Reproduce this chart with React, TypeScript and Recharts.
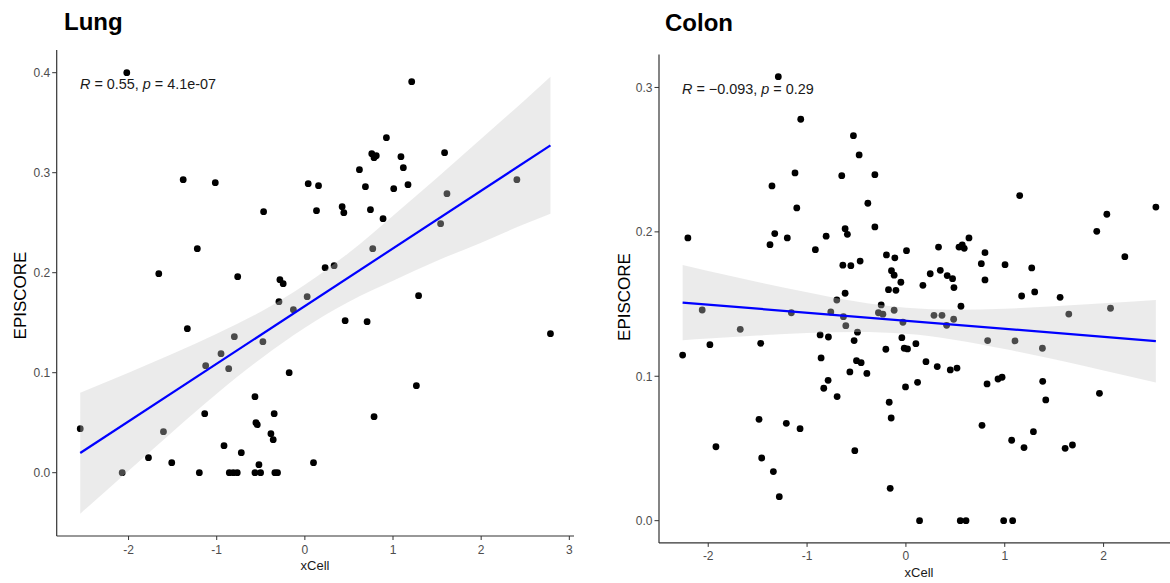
import { ComposedChart, Scatter, Area, Line, XAxis, YAxis } from "recharts";

// Lung panel: [xCell, EPISCORE]
const lungPoints: [number, number][] = [
  [-2.02, 0.4], [-1.38, 0.293], [-1.016, 0.29], [-0.468, 0.261], [-1.22, 0.224],
  [-1.657, 0.199], [-0.762, 0.196], [-0.283, 0.193], [-0.246, 0.189], [1.212, 0.391],
  [0.925, 0.335], [0.759, 0.319], [0.785, 0.315], [0.81, 0.317], [1.09, 0.316],
  [1.585, 0.32], [1.117, 0.305], [0.619, 0.303], [0.038, 0.289], [0.155, 0.287],
  [0.687, 0.286], [1.008, 0.284], [1.17, 0.288], [0.132, 0.262], [0.423, 0.266],
  [0.442, 0.26], [0.744, 0.263], [0.887, 0.254], [2.405, 0.293], [1.612, 0.279],
  [1.54, 0.249], [0.77, 0.224], [0.23, 0.205], [0.332, 0.207], [0.026, 0.176],
  [1.29, 0.177], [-0.294, 0.171], [-0.13, 0.163], [-1.333, 0.144], [-0.8, 0.136],
  [-0.476, 0.131], [-0.951, 0.119], [-1.125, 0.107], [-0.864, 0.104], [-0.178, 0.1],
  [-0.566, 0.076], [-1.136, 0.059], [-0.348, 0.059], [-0.555, 0.05], [-0.54, 0.048],
  [-2.548, 0.044], [-1.604, 0.041], [-0.385, 0.039], [-0.359, 0.033], [-0.917, 0.027],
  [-0.721, 0.02], [-1.774, 0.015], [-1.51, 0.01], [-0.521, 0.008], [-2.072, 0],
  [-1.197, 0], [-0.857, 0], [-0.812, 0], [-0.767, 0], [-0.566, 0],
  [-0.502, 0], [-0.34, 0], [-0.31, 0], [0.457, 0.152], [0.706, 0.151],
  [2.786, 0.139], [1.265, 0.087], [0.785, 0.056], [0.098, 0.01],
];

// fitted line ends and confidence band
const lungFitX = [-2.548, 2.786];
const lungFitY = [0.0197, 0.3273];
const lungBandX = [-2.548, -2, -1.5, -1, -0.5, 0, 0.5, 1, 1.5, 2, 2.5, 2.786];
const lungBandLow = [-0.041, 0.002, 0.041, 0.079, 0.114, 0.145, 0.171, 0.192, 0.212, 0.23, 0.249, 0.259];
const lungBandHigh = [0.08, 0.1, 0.119, 0.139, 0.161, 0.188, 0.22, 0.257, 0.295, 0.334, 0.373, 0.396];

// Colon panel
const colonPoints: [number, number][] = [
  [-1.291, 0.3075], [-1.064, 0.278], [-0.531, 0.2666], [-0.473, 0.2533], [-1.122, 0.2408],
  [-0.649, 0.2389], [-0.314, 0.2396], [-1.355, 0.2318], [-1.104, 0.2166], [-0.385, 0.2198],
  [-2.206, 0.1958], [-1.327, 0.1988], [-1.2, 0.1958], [-1.375, 0.1911], [-0.807, 0.197],
  [-0.615, 0.2022], [-0.592, 0.1983], [-0.314, 0.2034], [-0.916, 0.1877], [-0.638, 0.1769],
  [-0.557, 0.1766], [-0.463, 0.1798], [-0.615, 0.1575], [-0.699, 0.1528], [1.151, 0.2251],
  [2.033, 0.2122], [1.931, 0.2004], [2.529, 0.2172], [2.215, 0.1828], [0.638, 0.1958],
  [0.33, 0.1895], [0.537, 0.1895], [0.57, 0.191], [0.59, 0.1886], [0.006, 0.187],
  [-0.197, 0.184], [-0.112, 0.182], [0.8, 0.1856], [0.763, 0.178], [1.003, 0.1773],
  [1.273, 0.175], [-0.146, 0.1731], [-0.119, 0.17], [0.246, 0.171], [0.348, 0.1734],
  [0.418, 0.1697], [0.472, 0.1676], [-0.051, 0.1651], [0.8, 0.1667], [0.172, 0.163],
  [-0.176, 0.16], [-0.101, 0.1595], [0.486, 0.1614], [1.171, 0.1556], [1.303, 0.1584],
  [1.56, 0.1547], [-0.25, 0.1494], [-0.278, 0.144], [-0.233, 0.143], [-0.119, 0.1457],
  [0.557, 0.1485], [0.284, 0.1422], [0.365, 0.1422], [0.483, 0.1395], [0.412, 0.1353],
  [-0.03, 0.1374], [0.827, 0.1247], [1.104, 0.1245], [1.381, 0.1194], [1.648, 0.1431],
  [2.07, 0.1471], [-0.041, 0.1267], [-0.017, 0.1194], [0.016, 0.1189], [-0.203, 0.1187],
  [0.101, 0.1226], [0.203, 0.1101], [0.317, 0.1067], [0.449, 0.1044], [0.517, 0.1057],
  [0.932, 0.0981], [0.973, 0.0993], [0.821, 0.0947], [1.384, 0.0965], [1.415, 0.0836],
  [1.958, 0.0882], [-0.004, 0.0926], [0.118, 0.0958], [-0.169, 0.082], [-0.149, 0.0711],
  [0.77, 0.066], [1.29, 0.0616], [1.07, 0.0557], [1.195, 0.0506], [1.611, 0.0501],
  [1.685, 0.0524], [-0.159, 0.0224], [0.138, 0], [0.55, 0], [0.608, 0],
  [0.989, 0], [1.08, 0], [-2.061, 0.1459], [-1.676, 0.1325], [-1.159, 0.144],
  [-0.76, 0.1445], [-0.632, 0.1413], [-0.608, 0.135], [-0.49, 0.1305], [-2.259, 0.1147],
  [-1.983, 0.1219], [-1.469, 0.1228], [-0.868, 0.1286], [-0.784, 0.1272], [-0.524, 0.1247],
  [-0.858, 0.1127], [-0.5, 0.1108], [-0.453, 0.1094], [-0.567, 0.103], [-0.395, 0.102],
  [-0.787, 0.0972], [-0.831, 0.0917], [-0.696, 0.0859], [-1.486, 0.0702], [-1.21, 0.0674],
  [-1.071, 0.0637], [-1.922, 0.0512], [-0.517, 0.0485], [-1.459, 0.0434], [-1.341, 0.034],
  [-1.281, 0.0166],
];

const colonFitX = [-2.259, 2.529];
const colonFitY = [0.151, 0.1244];
const colonBandX = [-2.259, -2, -1.5, -1, -0.5, 0, 0.5, 1, 1.5, 2, 2.529];
const colonBandLow = [0.125, 0.1261, 0.1282, 0.1299, 0.1307, 0.1294, 0.1252, 0.1188, 0.1117, 0.104, 0.0957];
const colonBandHigh = [0.177, 0.1729, 0.1653, 0.1581, 0.1517, 0.1474, 0.1461, 0.1468, 0.1485, 0.1506, 0.1529];

const lungXTicks = [-2, -1, 0, 1, 2, 3];
const lungYTicks = [0, 0.1, 0.2, 0.3, 0.4];
const colonXTicks = [-2, -1, 0, 1, 2];
const colonYTicks = [0, 0.1, 0.2, 0.3];

const FONT = "'Liberation Sans', Arial, Helvetica, sans-serif";
const AXIS = "#333333";
const tickStyle = { fontSize: 12, fill: "#4d4d4d", fontFamily: FONT };

function Dot(props: any) {
  const { cx, cy } = props;
  if (cx == null || cy == null) return null;
  return <circle cx={cx} cy={cy} r={3.4} fill="#000" />;
}

type PanelProps = {
  width: number;
  height: number;
  margin: { top: number; right: number; bottom: number; left: number };
  points: [number, number][];
  fitX: number[];
  fitY: number[];
  bandX: number[];
  bandLow: number[];
  bandHigh: number[];
  xDomain: [number, number];
  yDomain: [number, number];
  xTicks: number[];
  yTicks: number[];
};

function Panel(p: PanelProps) {
  const pts = p.points.map(([x, y]) => ({ x, y }));
  const band = p.bandX.map((x, i) => ({ x, band: [p.bandLow[i], p.bandHigh[i]] }));
  const fit = p.fitX.map((x, i) => ({ x, fit: p.fitY[i] }));
  return (
    <ComposedChart width={p.width} height={p.height} margin={p.margin}>
      <XAxis
        type="number"
        dataKey="x"
        domain={p.xDomain}
        ticks={p.xTicks}
        allowDataOverflow
        height={30}
        tickSize={4}
        tickMargin={5}
        tick={tickStyle}
        axisLine={{ stroke: AXIS, strokeWidth: 1.2 }}
        tickLine={{ stroke: AXIS }}
        tickFormatter={(v) => String(v)}
      />
      <YAxis
        type="number"
        domain={p.yDomain}
        ticks={p.yTicks}
        allowDataOverflow
        width={40}
        tickSize={4.5}
        tickMargin={2}
        tick={tickStyle}
        axisLine={{ stroke: AXIS, strokeWidth: 1.2 }}
        tickLine={{ stroke: AXIS }}
        tickFormatter={(v) => v.toFixed(1)}
      />
      <Scatter data={pts} dataKey="y" shape={<Dot />} zIndex={100} isAnimationActive={false} />
      <Area
        data={band}
        dataKey="band"
        type="monotone"
        stroke="none"
        fill="#c8c8c8"
        fillOpacity={0.37}
        zIndex={700}
        isAnimationActive={false}
      />
      <Line
        data={fit}
        dataKey="fit"
        type="linear"
        stroke="#0000ff"
        strokeWidth={2.2}
        dot={false}
        activeDot={false}
        zIndex={800}
        isAnimationActive={false}
      />
    </ComposedChart>
  );
}

export default function App() {
  return (
    <div
      style={{
        position: "absolute",
        left: 0,
        top: 0,
        width: 1170,
        height: 583,
        overflow: "hidden",
        background: "#fff",
        fontFamily: FONT,
      }}
    >
      <div style={{ position: "absolute", left: 0, top: 0 }}>
        <Panel
          width={580}
          height={583}
          margin={{ top: 50, right: 6, bottom: 17, left: 16.7 }}
          points={lungPoints}
          fitX={lungFitX}
          fitY={lungFitY}
          bandX={lungBandX}
          bandLow={lungBandLow}
          bandHigh={lungBandHigh}
          xDomain={[-2.815, 3.053]}
          yDomain={[-0.0633, 0.4227]}
          xTicks={lungXTicks}
          yTicks={lungYTicks}
        />
      </div>
      <div style={{ position: "absolute", left: 600, top: 0 }}>
        <Panel
          width={590}
          height={583}
          margin={{ top: 54.4, right: 10.5, bottom: 10.1, left: 19 }}
          points={colonPoints}
          fitX={colonFitX}
          fitY={colonFitY}
          bandX={colonBandX}
          bandLow={colonBandLow}
          bandHigh={colonBandHigh}
          xDomain={[-2.498, 2.768]}
          yDomain={[-0.0154, 0.3229]}
          xTicks={colonXTicks}
          yTicks={colonYTicks}
        />
      </div>
      <svg
        width={1170}
        height={583}
        style={{ position: "absolute", left: 0, top: 0, pointerEvents: "none" }}
        fontFamily={FONT}
      >
        <text x={64} y={30} fontSize={24} fontWeight="bold" fill="#000">Lung</text>
        <text x={665} y={30.5} fontSize={24} fontWeight="bold" fill="#000">Colon</text>

        <text x={80} y={88.5} fontSize={14.4} fill="#1a1a1a">
          <tspan fontStyle="italic">R</tspan> = 0.55, <tspan fontStyle="italic">p</tspan> = 4.1e-07
        </text>
        <text x={682} y={93.5} fontSize={14.4} fill="#1a1a1a">
          <tspan fontStyle="italic">R</tspan> = −0.093, <tspan fontStyle="italic">p</tspan> = 0.29
        </text>

        <text x={315} y={570} fontSize={13} fill="#1a1a1a" textAnchor="middle">xCell</text>
        <text x={919} y={577} fontSize={13} fill="#1a1a1a" textAnchor="middle">xCell</text>

        <text
          x={26}
          y={295.5}
          fontSize={17}
          fill="#000"
          textAnchor="middle"
          transform="rotate(-90 26 295.5)"
        >
          EPISCORE
        </text>
        <text
          x={630}
          y={297}
          fontSize={17}
          fill="#000"
          textAnchor="middle"
          transform="rotate(-90 630 297)"
        >
          EPISCORE
        </text>
      </svg>
    </div>
  );
}
